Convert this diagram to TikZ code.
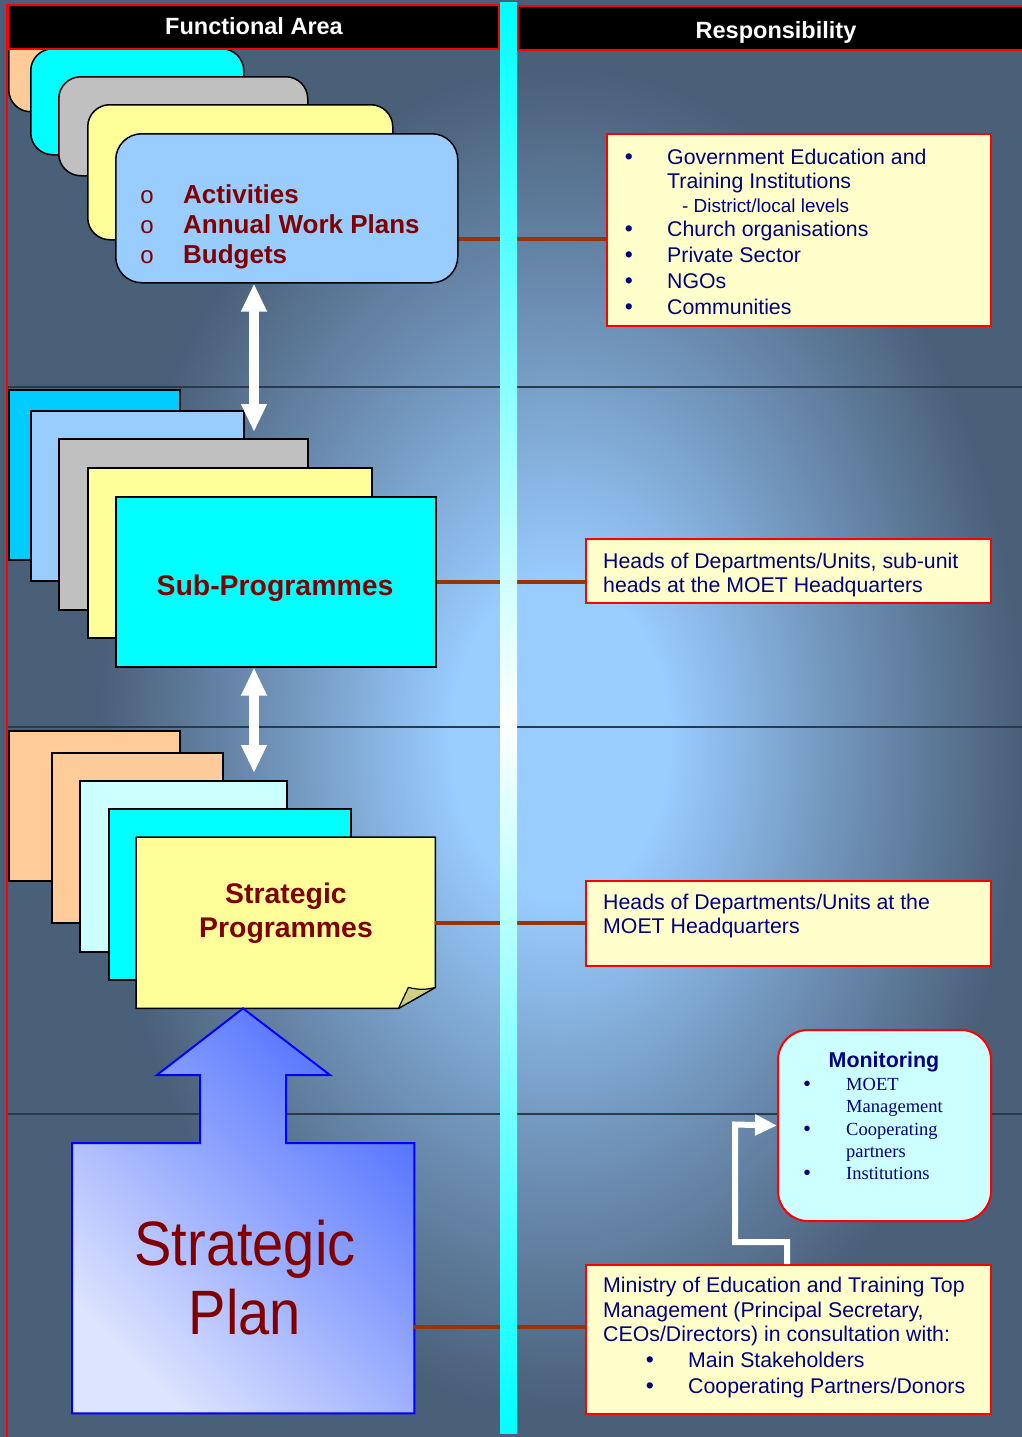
\documentclass[tikz,border=0pt]{standalone}
\usepackage{fontspec}
\usepackage{graphicx}
\setmainfont{Liberation Sans}
\newfontfamily\serifx{Liberation Serif}
\usetikzlibrary{arrows.meta,calc}
\definecolor{bgdark}{HTML}{4A5F78}
\definecolor{bglight}{HTML}{99CCFF}
\definecolor{peach}{HTML}{FFCC99}
\definecolor{cyanx}{HTML}{00FFFF}
\definecolor{greyx}{HTML}{C0C0C0}
\definecolor{yelx}{HTML}{FFFF99}
\definecolor{lblue}{HTML}{99CCFF}
\definecolor{dsky}{HTML}{00CCFF}
\definecolor{lcyan}{HTML}{CCFFFF}
\definecolor{dred}{HTML}{800000}
\definecolor{navyx}{HTML}{000080}
\definecolor{brownx}{HTML}{993300}
\definecolor{paley}{HTML}{FFFFCC}
\definecolor{foldc}{HTML}{D2CE86}
\definecolor{bandc}{HTML}{2B3A4A}
\definecolor{planA}{HTML}{DDE4FF}
\definecolor{planB}{HTML}{5070FF}
\colorlet{bgmid}{bglight!50!bgdark}
\pgfdeclareradialshading{bgrad}{\pgfpoint{0bp}{0bp}}{color(0bp)=(bglight); color(5bp)=(bglight); color(12.5bp)=(bgmid); color(21bp)=(bgdark); color(50bp)=(bgdark)}
\tikzset{
  card/.style={draw=black, line width=1.5pt, inner sep=0pt, anchor=north west},
  rcard/.style={card, rounded corners=22pt},
  respbox/.style={draw=red, line width=2pt, fill=paley, inner sep=0pt, anchor=north west},
  hdr/.style={draw=red, line width=2pt, fill=black, inner sep=0pt, anchor=north west},
  txt/.style={inner sep=0pt, anchor=base west, text=navyx, font=\fontsize{21.3}{25}\selectfont},
  bul/.style={txt, anchor=base, font=\fontsize{23}{25}\selectfont},
  stxt/.style={inner sep=0pt, anchor=base west, text=navyx, font=\serifx\fontsize{18.5}{22}\selectfont},
  sbul/.style={inner sep=0pt, anchor=base, text=navyx, font=\fontsize{20}{22}\selectfont},
  redtxt/.style={inner sep=0pt, text=dred, font=\bfseries\fontsize{26}{30}\selectfont},
  bigred/.style={inner sep=0pt, anchor=base, text=dred, font=\bfseries\fontsize{28.4}{32}\selectfont},
  obul/.style={inner sep=0pt, anchor=base, text=dred, font=\fontsize{24}{26}\selectfont},
  conn/.style={draw=brownx, line width=4pt},
  dbl/.style={white, line width=10pt, {Triangle[width=24pt,length=28pt]}-{Triangle[width=24pt,length=28pt]}},
  bandline/.style={draw=bandc, line width=1.3pt},
  hdrtxt/.style={inner sep=0pt, anchor=base, text=white, font=\bfseries\fontsize{23.5}{27}\selectfont}
}
\begin{document}
\begin{tikzpicture}[x=1pt,y=-1pt]
\useasboundingbox (0,0) rectangle (1022,1437);
% background
\begin{scope}
\clip (0,0) rectangle (1022,1437);
\fill[bgdark] (0,0) rectangle (1022,1437);
\shade[shading=bgrad] (10,-60) rectangle (1110,1540);
\end{scope}
% band lines
\draw[bandline] (8,387) -- (1022,387);
\draw[bandline] (8,727) -- (1022,727);
\draw[bandline] (8,1114) -- (1022,1114);
% left red border
\draw[red, line width=1.5pt] (7,4) -- (7,1437);

% coordinates for connector heights and arrow axis
\coordinate (y1) at (0,239);
\coordinate (y4) at (0,1327);
\coordinate (ax) at (254,0);

% stack 1 (rounded)
\node[rcard, fill=peach, minimum width=190pt, minimum height=90pt] (s1a) at (8,21) {};
\node[rcard, fill=cyanx, minimum width=213pt, minimum height=106pt] (s1b) at (30,48) {};
\node[rcard, fill=greyx, minimum width=249pt, minimum height=99pt] (s1c) at (58,76) {};
\node[rcard, fill=yelx, minimum width=305pt, minimum height=135pt] (s1d) at (87,104) {};
\node[rcard, fill=lblue, minimum width=342pt, minimum height=149pt, rounded corners=26pt] (act) at (115,133) {};
\node[obul] (o1) at (147,203) {o};
\node[obul] (o2) at (147,233) {o};
\node[obul] (o3) at (147,263) {o};
\node[redtxt, anchor=base west] (t1) at (183,203) {Activities};
\node[redtxt, anchor=base west] (t2) at (183,233) {Annual Work Plans};
\node[redtxt, anchor=base west] (t3) at (183,263) {Budgets};

% stack 2
\node[card, fill=dsky, minimum width=171pt, minimum height=170pt] (s2a) at (8,389) {};
\node[card, fill=lblue, minimum width=213pt, minimum height=170pt] (s2b) at (30,410) {};
\node[card, fill=greyx, minimum width=249pt, minimum height=171pt] (s2c) at (58,438) {};
\node[card, fill=yelx, minimum width=284pt, minimum height=170pt] (s2d) at (87,467) {};
\node[card, fill=cyanx, minimum width=320pt, minimum height=170pt] (sub) at (115,496) {};
\node[bigred] (subt) at (275,595) {Sub-Programmes};

% stack 3
\node[card, fill=peach, minimum width=171pt, minimum height=150pt] (s3a) at (8,730) {};
\node[card, fill=peach, minimum width=171pt, minimum height=170pt] (s3b) at (51,752) {};
\node[card, fill=lcyan, minimum width=207pt, minimum height=171pt] (s3c) at (79,780) {};
\node[card, fill=cyanx, minimum width=242pt, minimum height=171pt] (s3d) at (108,808) {};
\node[inner sep=0pt, minimum width=299pt, minimum height=171pt, anchor=north west] (sp) at (136,837) {};
\draw[black, line width=1.5pt, fill=yelx, line join=round] (sp.north west) -- (sp.north east) -- ($(sp.south east)+(0,-21)$) -- ($(sp.south east)+(-37,0)$) -- (sp.south west) -- cycle;
\draw[black, line width=1.2pt, fill=foldc, line join=round] ($(sp.south east)+(-37,0)$) -- ($(sp.south east)+(-27,-21)$) .. controls ($(sp.south east)+(-15,-18)$) and ($(sp.south east)+(-8,-19)$) .. ($(sp.south east)+(0,-21)$) -- cycle;
\node[bigred] (spt1) at (286,903) {Strategic};
\node[bigred] (spt2) at (286,937) {Programmes};

% double arrows
\draw[dbl] (act.south -| ax) -- ($(ax |- s2c.north)+(0,-6)$);
\draw[dbl] (sub.south -| ax) -- ($(ax |- s3c.north)+(0,-7)$);

% strategic plan block arrow
\node[inner sep=0pt, minimum width=342pt, minimum height=270pt, anchor=north west] (plan) at (72,1143) {};
\path[draw=blue, line width=2pt, left color=planB, right color=planA, shading angle=-45, line join=miter]
  (plan.north west) -- (200,1143) -- (200,1075) -- (157,1075) -- (sp.south -| 243,0) -- (330,1075) -- (286,1075) -- (286,1143) -- (plan.north east) -- (plan.south east) -- (plan.south west) -- cycle;
\node[inner sep=0pt, anchor=base, text=dred, font=\fontsize{56}{62}\selectfont] (pl1) at (245,1265) {\scalebox{1}[1.12]{Strategic}};
\node[inner sep=0pt, anchor=base, text=dred, font=\fontsize{56}{62}\selectfont] (pl2) at (245,1334) {\scalebox{1}[1.12]{Plan}};

% responsibility boxes
\node[respbox, minimum width=384pt, minimum height=192pt] (r1) at (606,133) {};
\node[respbox, minimum width=405pt, minimum height=64pt] (r2) at (585,538) {};
\node[respbox, minimum width=405pt, minimum height=85pt] (r3) at (585,880) {};
\node[respbox, minimum width=405pt, minimum height=149pt] (r4) at (585,1264) {};
\node[draw=red, line width=2pt, fill=lcyan, rounded corners=30pt, inner sep=0pt, anchor=north west, minimum width=213pt, minimum height=191pt] (mon) at (777,1029) {};

% connectors
\draw[conn] (act.east |- y1) -- (r1.west |- y1);
\draw[conn] (sub.east) -- (sub.east -| r2.west);
\draw[conn] (sp.east) -- (sp.east -| r3.west);
\draw[conn] (plan.east |- y4) -- (r4.west |- y4);

% vertical bar
\shade[top color=cyanx, bottom color=cyanx, middle color=white] (500,3) rectangle (517,1433);

% headers
\node[hdr, minimum width=491pt, minimum height=44pt] (h1) at (7,4) {};
\node[hdr, minimum width=510pt, minimum height=44pt] (h2) at (517,5) {};
\node[hdrtxt] (h1t) at (254,35) {Functional Area};
\node[hdrtxt] (h2t) at (776,38) {Responsibility};

% box 1 text
\node[bul] (b11) at (629,164) {•};
\node[txt] (r1a) at (667,164) {Government Education and};
\node[txt] (r1b) at (667,188) {Training Institutions};
\node[txt, font=\fontsize{18.9}{22}\selectfont] (r1c) at (682,212) {- District/local levels};
\node[bul] (b12) at (629,236) {•};
\node[txt] (r1d) at (667,236) {Church organisations};
\node[bul] (b13) at (629,262) {•};
\node[txt] (r1e) at (667,262) {Private Sector};
\node[bul] (b14) at (629,288) {•};
\node[txt] (r1f) at (667,288) {NGOs};
\node[bul] (b15) at (629,314) {•};
\node[txt] (r1g) at (667,314) {Communities};

% box 2 text
\node[txt] (r2a) at (603,568) {Heads of Departments/Units, sub-unit};
\node[txt] (r2b) at (603,592) {heads at the MOET Headquarters};
% box 3 text
\node[txt] (r3a) at (603,909) {Heads of Departments/Units at the};
\node[txt] (r3b) at (603,933) {MOET Headquarters};
% box 4 text
\node[txt] (r4a) at (603,1292) {Ministry of Education and Training Top};
\node[txt] (r4b) at (603,1317) {Management (Principal Secretary,};
\node[txt] (r4c) at (603,1341) {CEOs/Directors) in consultation with:};
\node[bul] (b41) at (650,1367) {•};
\node[txt] (r4d) at (688,1367) {Main Stakeholders};
\node[bul] (b42) at (650,1393) {•};
\node[txt] (r4e) at (688,1393) {Cooperating Partners/Donors};

% monitoring text
\node[inner sep=0pt, anchor=base, text=navyx, font=\bfseries\fontsize{21.4}{24}\selectfont] (mt) at (884,1067) {Monitoring};
\node[sbul] (m1) at (807,1090) {•};
\node[stxt] (ma) at (846,1090) {MOET};
\node[stxt] (mb) at (846,1112) {Management};
\node[sbul] (m2) at (807,1135) {•};
\node[stxt] (mc) at (846,1135) {Cooperating};
\node[stxt] (md) at (846,1157) {partners};
\node[sbul] (m3) at (807,1179) {•};
\node[stxt] (me) at (846,1179) {Institutions};

% elbow arrow
\coordinate (ex) at (787,0);
\draw[white, line width=6pt, line join=miter, -{Triangle[width=20pt,length=22pt]}]
  (r4.north -| ex) -- (787,1242) -- (735,1242) -- (735,1124.5) -- (mon.west);
\end{tikzpicture}
\end{document}
